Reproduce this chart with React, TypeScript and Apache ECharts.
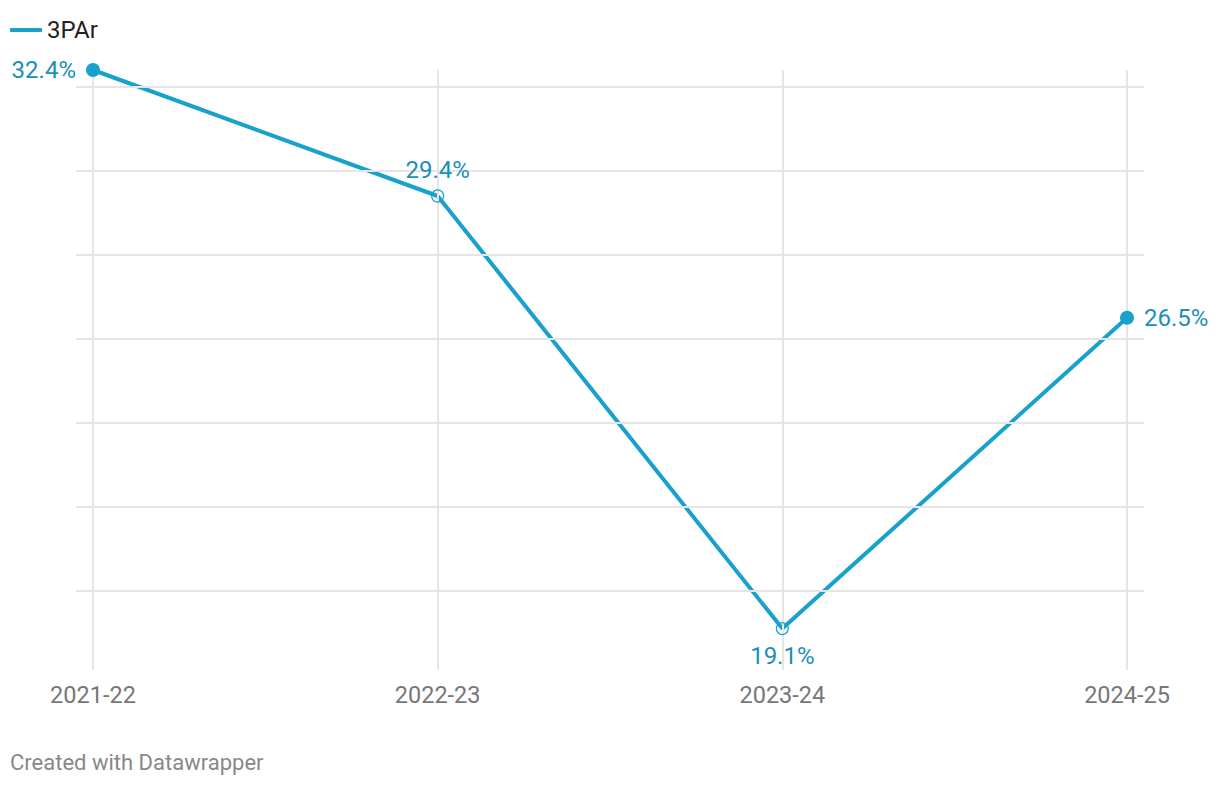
import React, { useEffect, useRef } from "react";
import * as echarts from "echarts";

const categories = ["2021-22", "2022-23", "2023-24", "2024-25"];
const values = [32.4, 29.4, 19.1, 26.5];
const hollow = [false, true, true, false];
const labelPositions = ["left", "top", "bottom", "right"];
const yGridValues = [20, 22, 24, 26, 28, 30, 32];
const xGridValues = [0, 1, 2, 3];

const LINE = "#18a1cd";
const LABEL = "#1a8fb8";
const GRID = "#e5e5e5";
const FONT = "Roboto, 'Noto Sans', sans-serif";

export default function App() {
  const ref = useRef<HTMLDivElement>(null);
  useEffect(() => {
    if (!ref.current) return;
    const chart = echarts.init(ref.current, undefined, { renderer: "svg" });
    const points = values.map((v, i) => ({
      value: [i, v],
      symbol: "circle",
      symbolSize: hollow[i] ? 12 : 14,
      itemStyle: hollow[i]
        ? { color: "rgba(255,255,255,0)", borderColor: LINE, borderWidth: 1.2, opacity: 1 }
        : { color: LINE, borderWidth: 0, opacity: 1 },
      label: {
        show: true,
        position: labelPositions[i],
        distance: labelPositions[i] === "top" ? 7 : labelPositions[i] === "bottom" ? 9 : 10,
        formatter: () => values[i].toFixed(1) + "%",
        color: LABEL,
        fontSize: 24,
        fontFamily: FONT,
      },
    }));
    chart.setOption({
      animation: false,
      backgroundColor: "#ffffff",
      textStyle: { fontFamily: FONT },
      legend: {
        show: true,
        left: 5,
        top: 13,
        icon: "roundRect",
        itemWidth: 32,
        itemHeight: 4,
        itemGap: 6,
        textStyle: { fontSize: 24, color: "#222222", fontFamily: FONT },
        data: ["3PAr"],
      },
      grid: { left: 76, right: 76, top: 70, bottom: 116, containLabel: false },
      xAxis: {
        type: "value",
        min: -0.0493,
        max: 3.0493,
        axisLine: { show: false },
        axisTick: { show: false },
        splitLine: { show: false },
        axisLabel: {
          customValues: xGridValues,
          formatter: (v: number) => categories[Math.round(v)] ?? "",
          color: "#777777",
          fontSize: 23.5,
          fontFamily: FONT,
          margin: 13,
        },
      },
      yAxis: {
        type: "value",
        min: 32.4 - 600 / 42,
        max: 32.4,
        axisLine: { show: false },
        axisTick: { show: false },
        splitLine: { show: false },
        axisLabel: { show: false },
      },
      graphic: [
        {
          type: "text",
          left: 10,
          top: 751,
          style: {
            text: "Created with Datawrapper",
            fill: "#888888",
            fontSize: 22,
            fontFamily: FONT,
          },
        },
      ],
      series: [
        {
          name: "grid",
          type: "line",
          data: [],
          z: 1,
          silent: true,
          markLine: {
            silent: true,
            symbol: "none",
            label: { show: false },
            lineStyle: { color: GRID, width: 2, type: "solid" },
            data: [
              ...yGridValues.map((v) => ({ yAxis: v })),
              ...xGridValues.map((v) => ({ xAxis: v })),
            ],
          },
        },
        {
          name: "3PAr",
          type: "line",
          z: 3,
          clip: false,
          data: values.map((v, i) => [i, v]),
          color: LINE,
          showSymbol: false,
          lineStyle: { color: LINE, width: 4 },
        },
        {
          name: "points",
          type: "scatter",
          z: 5,
          clip: false,
          data: points,
          color: LINE,
        },
      ],
    });
    return () => chart.dispose();
  }, []);
  return (
    <div
      ref={ref}
      style={{ position: "fixed", left: 0, top: 0, width: 1220, height: 786 }}
    />
  );
}
